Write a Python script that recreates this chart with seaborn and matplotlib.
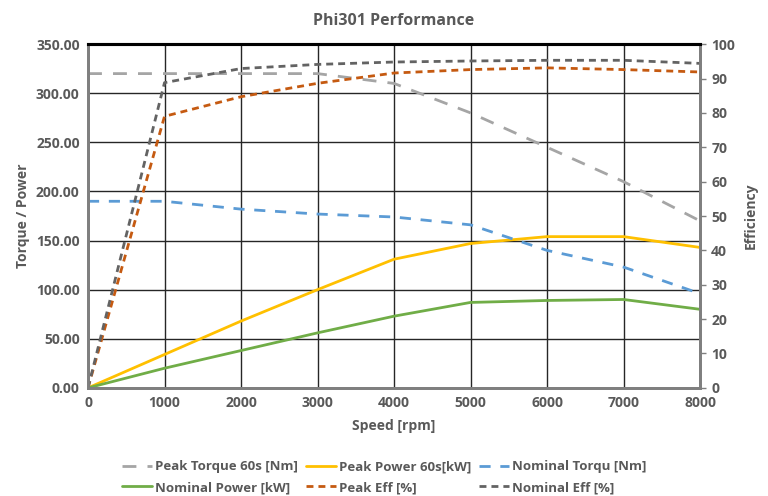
import numpy as np
import pandas as pd
import matplotlib.pyplot as plt
import seaborn as sns

# Values
speed = [0, 1000, 2000, 3000, 4000, 5000, 6000, 7000, 8000]
peak_torque = [320, 320, 320, 320, 310, 280, 245, 210, 170]
peak_power = [0, 34, 68, 100, 131, 147, 154, 154, 143]
nominal_torque = [190, 190, 182, 177, 174, 166, 140, 123, 96]
nominal_power = [0, 20, 38, 56, 73, 87, 89, 90, 80]
peak_eff = [0, 79, 84.7, 88.6, 91.6, 92.6, 93.1, 92.6, 91.9]
nominal_eff = [0, 88.8, 92.9, 94.1, 94.8, 95.1, 95.3, 95.3, 94.4]

df = pd.DataFrame({'speed': speed, 'peak_torque': peak_torque, 'peak_power': peak_power,
                   'nominal_torque': nominal_torque, 'nominal_power': nominal_power,
                   'peak_eff': peak_eff, 'nominal_eff': nominal_eff})

sns.set_style('white')
plt.rcParams['font.family'] = ['Open Sans', 'DejaVu Sans']
text_col = '#595959'

fig, ax = plt.subplots(figsize=(7.68, 4.96), dpi=100)
fig.subplots_adjust(left=0.1146, right=0.9115, top=0.911, bottom=0.218)
ax2 = ax.twinx()

sns.lineplot(data=df, x='speed', y='peak_torque', ax=ax, color='#A5A5A5', lw=2,
             label='Peak Torque 60s [Nm]').lines[-1].set_dashes([5, 4])
sns.lineplot(data=df, x='speed', y='peak_power', ax=ax, color='#FFC000', lw=2,
             label='Peak Power 60s[kW]')
sns.lineplot(data=df, x='speed', y='nominal_torque', ax=ax, color='#5B9BD5', lw=2,
             label='Nominal Torqu [Nm]').lines[-1].set_dashes([4, 3.5])
sns.lineplot(data=df, x='speed', y='nominal_power', ax=ax, color='#70AD47', lw=2,
             label='Nominal Power [kW]')
sns.lineplot(data=df, x='speed', y='peak_eff', ax=ax2, color='#C55A11', lw=2,
             label='Peak Eff [%]').lines[-1].set_dashes([2.5, 1.8])
sns.lineplot(data=df, x='speed', y='nominal_eff', ax=ax2, color='#636363', lw=2,
             label='Nominal Eff [%]').lines[-1].set_dashes([2.5, 1.8])

ax.set_xlim(0, 8000)
ax.set_ylim(0, 350)
ax2.set_ylim(0, 100)
ax.set_xticks(np.arange(0, 8001, 1000))
ax.set_yticks(np.arange(0, 351, 50))
ax2.set_yticks(np.arange(0, 101, 10))
ax.set_yticklabels([f'{v:.2f}' for v in np.arange(0, 351, 50)])

ax.grid(True, color='#262626', lw=1.0)
ax.set_axisbelow(True)
ax2.grid(False)

for a in (ax, ax2):
    for s in ('left', 'right', 'bottom'):
        a.spines[s].set_color('#7F7F7F')
        a.spines[s].set_linewidth(2)
    a.spines['top'].set_color('black')
    a.spines['top'].set_linewidth(2.2)

ax.tick_params(axis='both', length=0, pad=6, labelsize=10, labelcolor=text_col)
ax2.tick_params(axis='y', length=4, width=1, color='#7F7F7F', pad=4,
                labelsize=10, labelcolor=text_col)
for lab in ax.get_xticklabels() + ax.get_yticklabels() + ax2.get_yticklabels():
    lab.set_fontweight('bold')

ax.set_xlabel('Speed [rpm]', fontsize=10, fontweight='bold', color=text_col, labelpad=6)
ax.set_ylabel('Torque / Power', fontsize=10, fontweight='bold', color=text_col)
ax2.set_ylabel('Efficiency', fontsize=10, fontweight='bold', color=text_col, labelpad=6)
ax.set_title('Phi301 Performance', fontsize=11.5, fontweight='bold', color=text_col, pad=14)

h1, l1 = ax.get_legend_handles_labels()
h2, l2 = ax2.get_legend_handles_labels()
ax.get_legend().remove()
ax2.get_legend().remove()
h = h1 + h2
l = l1 + l2
order = [0, 3, 1, 4, 2, 5]
leg = fig.legend([h[i] for i in order], [l[i] for i in order], ncol=3,
                 loc='lower center', bbox_to_anchor=(0.5, -0.02), frameon=False,
                 fontsize=9.5, handlelength=2.3, columnspacing=0.6, handletextpad=0.2,
                 labelspacing=0.6)
for t in leg.get_texts():
    t.set_color(text_col)
    t.set_fontweight('bold')

fig.savefig('out.png', dpi=100)
